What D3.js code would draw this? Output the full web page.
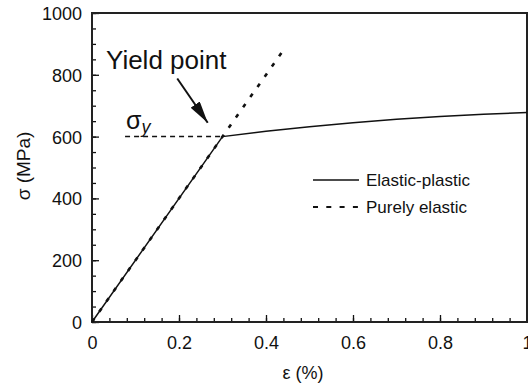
<!DOCTYPE html>
<html><head><meta charset="utf-8">
<script src="https://cdn.jsdelivr.net/npm/d3@7"></script>
<style>
body{margin:0;background:#fff}
text{font-family:"Liberation Sans",Arial,Helvetica,sans-serif;fill:#111}
</style></head>
<body><svg id="c" width="528" height="388"></svg>
<script>
// data
const elasticPlasticX = [0, 0.3, 0.4, 0.5, 0.6, 0.7, 0.8, 0.9, 1.0];
const elasticPlasticY = [0, 600, 617, 632, 645, 656, 665, 672, 678];
const purelyElasticX = [0, 0.445];
const purelyElasticY = [0, 890];
const yieldStress = 600;
const yieldStrain = 0.3;
const sigmaYStartX = 0.076;
const xTicks = [0, 0.2, 0.4, 0.6, 0.8, 1];
const xTickLabels = ["0", "0.2", "0.4", "0.6", "0.8", "1"];
const yTicks = [0, 200, 400, 600, 800, 1000];
const yTickLabels = ["0", "200", "400", "600", "800", "1000"];
const legendLabels = ["Elastic-plastic", "Purely elastic"];

const svg = d3.select("#c");
const m = {l:92, r:527, t:13, b:322};
const x = d3.scaleLinear().domain([0,1]).range([m.l, m.r]);
const y = d3.scaleLinear().domain([0,1000]).range([m.b, m.t]);
const ink = "#111";

// minor ticks
const xMinor = d3.range(0, 1.0001, 0.04);
const yMinor = d3.range(0, 1000.1, 50);
const gx = svg.append("g").attr("transform", `translate(0,${m.b})`);
gx.call(d3.axisBottom(x).tickValues(xMinor).tickSize(-4).tickFormat(""));
const gx2 = svg.append("g").attr("transform", `translate(0,${m.b})`);
gx2.call(d3.axisBottom(x).tickValues(xTicks).tickSize(-7)
  .tickFormat((d,i)=>xTickLabels[i]));
const gy = svg.append("g").attr("transform", `translate(${m.l},0)`);
gy.call(d3.axisLeft(y).tickValues(yMinor).tickSize(-4).tickFormat(""));
const gy2 = svg.append("g").attr("transform", `translate(${m.l},0)`);
gy2.call(d3.axisLeft(y).tickValues(yTicks).tickSize(-7).tickPadding(10)
  .tickFormat((d,i)=>yTickLabels[i]));
svg.selectAll(".domain").remove();
svg.selectAll(".tick line").attr("stroke", ink).attr("stroke-width", 1.3);
svg.selectAll(".tick text").attr("font-size", 18).attr("fill", ink)
  .style("font-family", '"Liberation Sans",Arial,sans-serif');
gx2.selectAll(".tick text").attr("dy", null).attr("y", 27);
gy2.selectAll(".tick text").attr("dy", "0.36em");

// frame
svg.append("rect").attr("x", m.l).attr("y", m.t).attr("width", m.r-m.l).attr("height", m.b-m.t)
  .attr("fill", "none").attr("stroke", "#222").attr("stroke-width", 2);

const line = d3.line().x(d=>x(d[0])).y(d=>y(d[1]));

// sigma_y dashed
svg.append("path").attr("d", line([[sigmaYStartX, yieldStress],[yieldStrain, yieldStress]]))
  .attr("fill","none").attr("stroke",ink).attr("stroke-width",1.5).attr("stroke-dasharray","5,4");

// elastic-plastic
svg.append("path").attr("d", line(elasticPlasticX.map((v,i)=>[v, elasticPlasticY[i]])))
  .attr("fill","none").attr("stroke",ink).attr("stroke-width",1.5);

// purely elastic
svg.append("path").attr("d", line(purelyElasticX.map((v,i)=>[v, purelyElasticY[i]])))
  .attr("fill","none").attr("stroke",ink).attr("stroke-width",2.6).attr("stroke-dasharray","4,8.5");

// annotation text
svg.append("text").attr("x", 106).attr("y", 69).attr("font-size", 26).text("Yield point");
const sy = svg.append("text").attr("x", 126).attr("y", 129).attr("font-size", 25);
sy.append("tspan").text("σ");
sy.append("tspan").attr("font-size", 18).attr("font-style","italic").attr("dy", 4).text("y");

// arrow
const defs = svg.append("defs");
defs.append("marker").attr("id","ah").attr("viewBox","0 0 20 10").attr("refX",20).attr("refY",5)
  .attr("markerWidth",22).attr("markerHeight",11).attr("markerUnits","userSpaceOnUse").attr("orient","auto")
  .append("path").attr("d","M0,0 L20,5 L0,10 Z").attr("fill",ink);
svg.append("path").attr("d", `M${x(0.196)},${y(788)} L${x(0.266)},${y(645)}`)
  .attr("stroke",ink).attr("stroke-width",2).attr("marker-end","url(#ah)");

// legend
const lg = svg.append("g");
lg.append("line").attr("x1",313).attr("x2",359).attr("y1",180).attr("y2",180)
  .attr("stroke",ink).attr("stroke-width",1.5);
lg.append("line").attr("x1",313).attr("x2",359).attr("y1",207).attr("y2",207)
  .attr("stroke",ink).attr("stroke-width",2).attr("stroke-dasharray","5,8.3");
lg.append("text").attr("x",366).attr("y",186).attr("font-size",17).text(legendLabels[0]);
lg.append("text").attr("x",366).attr("y",213).attr("font-size",17).text(legendLabels[1]);

// axis titles
svg.append("text").attr("transform","translate(30,166) rotate(-90)").attr("text-anchor","middle")
  .attr("font-size",19).text("σ (MPa)");
svg.append("text").attr("x",303).attr("y",379).attr("text-anchor","middle")
  .attr("font-size",18).text("ε (%)");
</script></body></html>
